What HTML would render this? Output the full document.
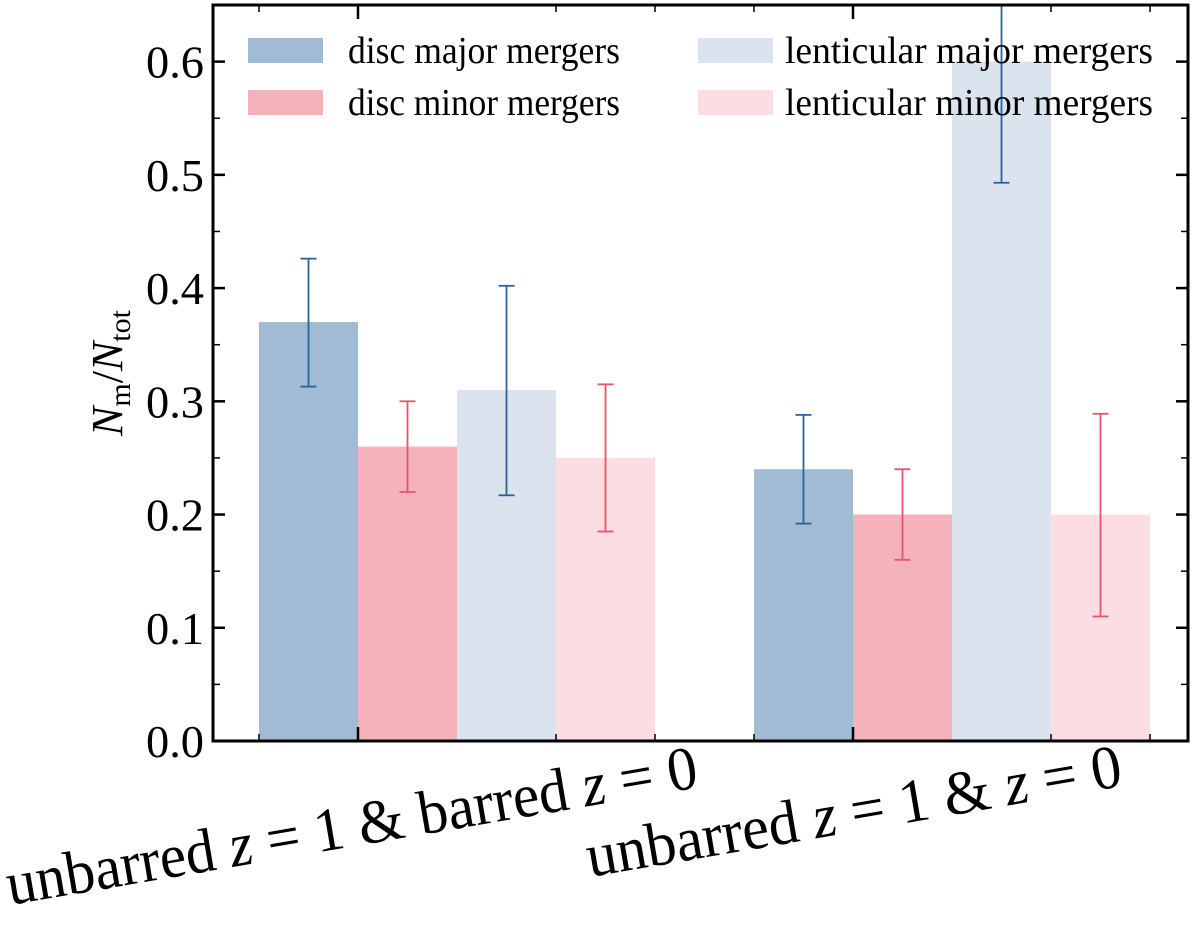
<!DOCTYPE html>
<html><head><meta charset="utf-8"><style>
body{margin:0;background:#fff}
svg text{font-family:"Liberation Serif",serif;fill:#000}
</style></head><body>
<svg id="c" width="1200" height="933" xmlns="http://www.w3.org/2000/svg"></svg>
<script>
const groups=["unbarred z = 1 & barred z = 0","unbarred z = 1 & z = 0"];
const seriesNames=["disc major mergers","disc minor mergers","lenticular major mergers","lenticular minor mergers"];
const values=[[0.37,0.24],[0.26,0.20],[0.31,0.60],[0.25,0.20]];
const errLow=[[0.313,0.192],[0.22,0.16],[0.217,0.493],[0.185,0.11]];
const errHigh=[[0.426,0.288],[0.30,0.24],[0.402,0.70],[0.315,0.289]];
const yTicks=[0.0,0.1,0.2,0.3,0.4,0.5,0.6];
const fills=["#a2bbd4","#f5b2bb","#dae3ee","#fcdde2"];
const errColors=["#2b62a0","#e8546a","#2b62a0","#e8546a"];
const L=213,R=1188,T=5,B=741,yMax=0.65;
const y=v=>B-(v/yMax)*(B-T);
const groupCenters=[457,952];
const barW=99;
const x=(g,s)=>groupCenters[g]+(s-2)*barW;
const svg=document.getElementById('c');
const NS="http://www.w3.org/2000/svg";
function mk(t,a,p){const e=document.createElementNS(NS,t);for(const k in a)e.setAttribute(k,a[k]);(p||svg).appendChild(e);return e;}
for(let s=0;s<4;s++)for(let g=0;g<2;g++){
 const r=mk('rect',{x:x(g,s),y:y(values[s][g]),width:barW,height:B-y(values[s][g]),fill:fills[s]});
 
 
}
const defs=mk('defs',{});const cp=mk('clipPath',{id:'cp'},defs);mk('rect',{x:L,y:T,width:R-L,height:B-T},cp);
const eg=mk('g',{'clip-path':'url(#cp)'});
for(let s=0;s<4;s++)for(let g=0;g<2;g++){
 const cx=x(g,s)+barW/2, c=errColors[s], y1=y(errLow[s][g]), y2=y(errHigh[s][g]);
 const e=mk('g',{stroke:c,'stroke-width':1.8},eg);
 
 
 mk('line',{x1:cx,x2:cx,y1:y1,y2:y2},e);
 mk('line',{x1:cx-8,x2:cx+8,y1:y1,y2:y1},e);
 mk('line',{x1:cx-8,x2:cx+8,y1:y2,y2:y2},e);
}
const fr=mk('rect',{x:L,y:T,width:R-L,height:B-T,fill:'none',stroke:'#000','stroke-width':3});


for(const t of yTicks){
 const yy=y(t);
 mk('line',{x1:L,x2:L+12,y1:yy,y2:yy,stroke:'#000','stroke-width':2.5});
 mk('line',{x1:R-12,x2:R,y1:yy,y2:yy,stroke:'#000','stroke-width':2.5});
 const tx=mk('text',{x:L-9,y:yy+16,'text-anchor':'end','font-size':46,textLength:58,lengthAdjust:'spacingAndGlyphs'});
 tx.textContent=t.toFixed(1);
 
 
}
for(let t=0.05;t<yMax;t+=0.1){const yy=y(t);
 mk('line',{x1:L,x2:L+7,y1:yy,y2:yy,stroke:'#000','stroke-width':1.5});
 mk('line',{x1:R-7,x2:R,y1:yy,y2:yy,stroke:'#000','stroke-width':1.5});}
for(let g=0;g<2;g++){
 for(let s=0;s<=4;s++){const px=groupCenters[g]+(s-2)*barW;
  if(s==2)continue;
  mk('line',{x1:px,x2:px,y1:B,y2:B-7,stroke:'#000','stroke-width':1.5});
  mk('line',{x1:px,x2:px,y1:T,y2:T+7,stroke:'#000','stroke-width':1.5});}
}
for(const px of [358,853]){
 mk('line',{x1:px,x2:px,y1:B,y2:B-14,stroke:'#000','stroke-width':2.5});
 mk('line',{x1:px,x2:px,y1:T,y2:T+14,stroke:'#000','stroke-width':2.5});
}
const labPos=[[10,905,700],[590,877,542]];
for(let g=0;g<2;g++){
 const [lx,ly,len]=labPos[g];
 const tx=mk('text',{x:lx,y:ly,'font-size':62,textLength:len,lengthAdjust:'spacingAndGlyphs',transform:`rotate(-9.7 ${lx} ${ly})`});
 tx.innerHTML=groups[g].replace(/z/g,'<tspan font-style="italic">z</tspan>');
 
 
}
const yt=mk('text',{x:122,y:373,'text-anchor':'middle','font-size':44,transform:'rotate(-90 122 373)'});
yt.innerHTML='<tspan font-style="italic">N</tspan><tspan font-size="30" dy="8">m</tspan><tspan dy="-8">/</tspan><tspan font-style="italic">N</tspan><tspan font-size="30" dy="8">tot</tspan>';


const lg=mk('g',{});


const lp=[[248,38],[248,90],[698,38],[698,90]];
for(let s=0;s<4;s++){
 const e=mk('g',{},lg);
 
 
 mk('rect',{x:lp[s][0],y:lp[s][1],width:75,height:25,fill:fills[s]},e);
 const tx=mk('text',{x:lp[s][0]+(s<2?100:87),y:lp[s][1]+25,'font-size':38,textLength:(s<2?272:368),lengthAdjust:'spacingAndGlyphs'},e);
 tx.textContent=seriesNames[s];
}
</script>
</body></html>
